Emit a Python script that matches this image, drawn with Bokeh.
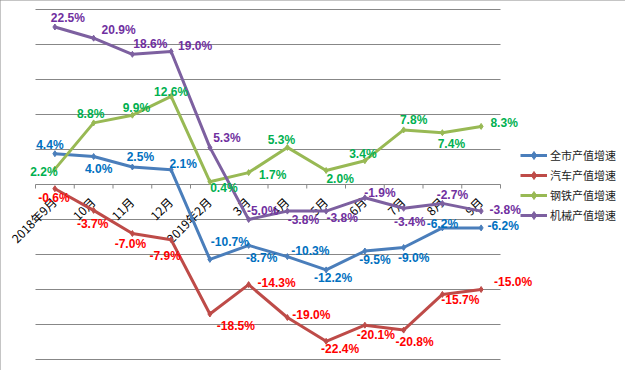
from math import pi
from bokeh.plotting import figure
from bokeh.models import Range1d, ColumnDataSource, Legend, LegendItem
from bokeh.core.properties import value
from bokeh.embed import file_html
from bokeh.resources import INLINE

# ---------------- data ----------------
months = ["2018年9月", "10月", "11月", "12月", "2019年2月", "3月", "4月", "5月",
          "6月", "7月", "8月", "9月"]
city = [4.4, 4.0, 2.5, 2.1, -10.7, -8.7, -10.3, -12.2, -9.5, -9.0, -6.2, -6.2]
auto = [-0.6, -3.7, -7.0, -7.9, -18.5, -14.3, -19.0, -22.4, -20.1, -20.8, -15.7, -15.0]
steel = [2.2, 8.8, 9.9, 12.6, 0.4, 1.7, 5.3, 2.0, 3.4, 7.8, 7.4, 8.3]
machine = [22.5, 20.9, 18.6, 19.0, 5.3, -5.0, -3.8, -3.8, -1.9, -3.4, -2.7, -3.8]
series_names = ["全市产值增速", "汽车产值增速", "钢铁产值增速", "机械产值增速"]
y_ticks = [-25, -20, -15, -10, -5, 0, 5, 10, 15, 20, 25]

# ---------------- layout (screen px) ----------------
W, H = 625, 370
PL, PR, PT, PB = 35, 500, 9, 359   # plot-area edges inside the canvas

line_colors = ["#4A7EBB", "#BE4B48", "#98B954", "#7D60A0"]
label_colors = ["#0070C0", "#FF0000", "#00B050", "#7030A0"]
label_dx = [
    [-5, 5, 8, 12, 20, 13, 23, 7, 10, 10, 0, 22],
    [-1, -1, -2, -6, 26, 28, 24, 14, 11, 11, 18, 32],
    [-11, -3, 4, 0, 14, 24, -6, 14, -2, 10, 9, 23],
    [13, 25, 18, 24, 17, 14, 16, 16, 15, 6, 10, 24],
]
label_dy = [
    [-9, 12, -10, -6, -17, 13, -6, 8, 9, 10, -4, -2],
    [9, 14, 10, 16, 12, -2, -3, 8, 10, 12, 6, -8],
    [3, -9, -7, -4, 6, 2, -7, 8, -7, -10, 11, -3],
    [-9, -8, -10, -6, -9, -9, 9, 7, -5, 14, -8, -1],
]

n = len(months)
xs = [i + 0.5 for i in range(n)]
bounds = list(range(n + 1))
ylo, yhi = y_ticks[0], y_ticks[-1]
kx = (PR - PL) / n
ky = (PB - PT) / (yhi - ylo)

p = figure(width=W, height=H, output_backend="svg", toolbar_location=None,
           x_range=Range1d(-PL / kx, (W - PL) / kx),
           y_range=Range1d(ylo - (H - PB) / ky, yhi + PT / ky),
           x_axis_type=None, y_axis_type=None,
           min_border=0)
p.xgrid.visible = False
p.ygrid.visible = False
p.outline_line_color = None
p.background_fill_color = "white"
p.border_fill_color = "white"
p.styles = {"outline": "1px solid #8a8a8a", "outline-offset": "-1px"}

# horizontal gridlines across the plot area
p.segment(x0=[0] * len(y_ticks), x1=[n] * len(y_ticks), y0=y_ticks, y1=y_ticks,
          line_color="#878787", line_width=1)

# category tick marks on the zero line
p.ray(x=bounds, y=[0] * len(bounds), length=4, length_units="screen",
      angle=-pi / 2, line_color="#878787", line_width=1)

# category labels
p.text(x=xs, y=[0] * len(xs), text=months, angle=pi / 4,
       text_align="right", text_baseline="middle", x_offset=-1, y_offset=15,
       text_font=value("Noto Sans CJK SC"), text_font_size="12px", text_color="#000000")

items = []
all_series = [city, auto, steel, machine]
for vals, name, lc in zip(all_series, series_names, line_colors):
    r1 = p.line(xs, vals, line_color=lc, line_width=3)
    r2 = p.scatter(xs, vals, marker="diamond", size=6, color=lc)
    items.append(LegendItem(label=name, renderers=[r1, r2]))

for vals, lc, dx, dy in zip(all_series, label_colors, label_dx, label_dy):
    src = ColumnDataSource(dict(x=xs, y=vals, t=[f"{v:.1f}%" for v in vals], dx=dx, dy=dy))
    p.text(x="x", y="y", text="t", x_offset="dx", y_offset="dy", source=src,
           text_align="center", text_baseline="middle",
           text_font=value("Liberation Sans"), text_font_style="bold",
           text_font_size="12px", text_color=lc)

legend = Legend(items=items, location=(520, 145), padding=0, margin=0, spacing=0,
                label_height=20, glyph_height=20, glyph_width=27, label_standoff=3,
                label_text_font="Noto Sans CJK SC", label_text_font_size="11px",
                label_text_color="#222222", border_line_color=None,
                background_fill_alpha=0)
p.add_layout(legend)

open("out.html", "w").write(file_html(p, INLINE))
